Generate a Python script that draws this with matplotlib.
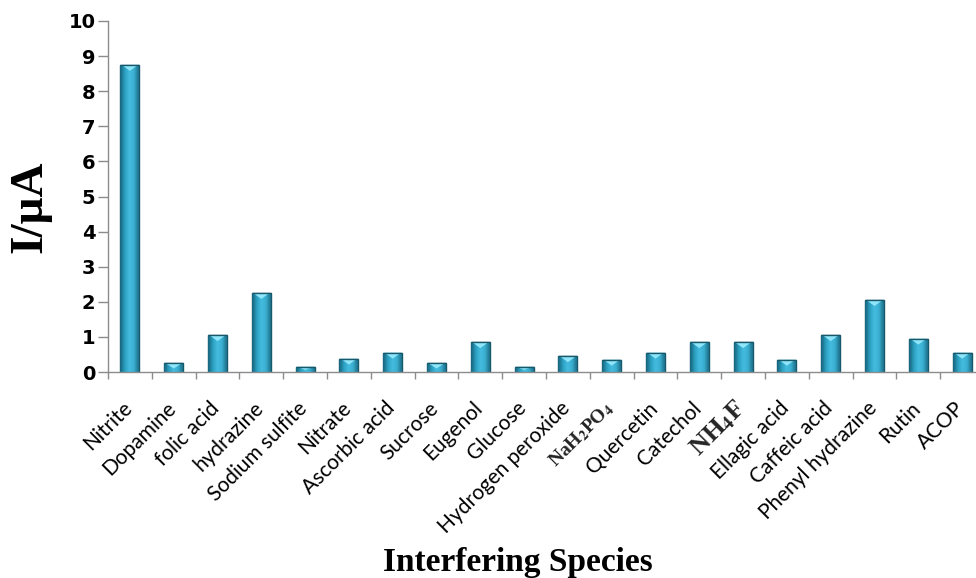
import numpy as np
import matplotlib
matplotlib.use("Agg")
import matplotlib.pyplot as plt
from matplotlib.patches import Polygon
from matplotlib.colors import LinearSegmentedColormap
import matplotlib.transforms as mtransforms

species = ["Nitrite", "Dopamine", "folic acid", "hydrazine", "Sodium sulfite",
           "Nitrate", "Ascorbic acid", "Sucrose", "Eugenol", "Glucose",
           "Hydrogen peroxide", "NaH$_\\mathbf{2}$PO$_\\mathbf{4}$", "Quercetin",
           "Catechol", "NH$_\\mathbf{4}$F", "Ellagic acid", "Caffeic acid",
           "Phenyl hydrazine", "Rutin", "ACOP"]
current_uA = [8.75, 0.25, 1.05, 2.25, 0.15, 0.38, 0.55, 0.25, 0.85, 0.15,
              0.45, 0.35, 0.55, 0.85, 0.85, 0.35, 1.05, 2.05, 0.95, 0.55]
y_ticks = [0, 1, 2, 3, 4, 5, 6, 7, 8, 9, 10]

plt.rcParams["mathtext.fontset"] = "stix"

fig = plt.figure(figsize=(9.76, 5.78), dpi=100)
ax = fig.add_axes([108 / 976, 206 / 578, 876 / 976, 351 / 578])

x = np.arange(len(species))
bar_w = 0.43
bars = ax.bar(x, current_uA, width=bar_w, color="#2a9dbd",
              edgecolor="#17586b", linewidth=1.0, zorder=2)

# horizontal shading inside each bar
shade = LinearSegmentedColormap.from_list(
    "shade", ["#17627a", "#2a9fc0", "#45bde0", "#3aaed0", "#1c6f88"])
grad = np.linspace(0, 1, 64).reshape(1, -1)
for rect, v in zip(bars, current_uA):
    x0 = rect.get_x()
    im = ax.imshow(grad, cmap=shade, aspect="auto",
                   extent=[x0, x0 + bar_w, 0, v], zorder=2.5,
                   interpolation="bicubic")
    im.set_clip_path(rect)
    # bevelled top
    tri_h = min(0.17, v * 0.6)
    tri = Polygon([[x0 + 0.03, v], [x0 + bar_w - 0.03, v],
                   [x0 + bar_w / 2, v - tri_h]], closed=True,
                  facecolor="#8fe6fa", edgecolor="none", zorder=3)
    ax.add_patch(tri)
    ax.plot([x0, x0 + bar_w], [v, v], color="#17586b", lw=1.0, zorder=3.2,
            solid_capstyle="butt")

ax.set_xlim(-0.5, len(species) - 0.5)
ax.set_ylim(0, 10)
ax.set_yticks(y_ticks)
ax.set_yticklabels([str(t) for t in y_ticks], fontsize=14, fontweight="bold",
                   family="DejaVu Sans")

ax.set_xticks(np.arange(len(species) + 1) - 0.5)
ax.set_xticklabels([])
ax.tick_params(axis="x", direction="out", length=5, width=1, color="#8c8c8c")
ax.tick_params(axis="y", direction="out", length=7, width=1, color="#8c8c8c",
               pad=2)

for s in ["top", "right"]:
    ax.spines[s].set_visible(False)
for s in ["left", "bottom"]:
    ax.spines[s].set_color("#8c8c8c")
    ax.spines[s].set_linewidth(1.0)

# rotated category labels
offset = mtransforms.ScaledTranslation(-1 / 100, -33 / 100, fig.dpi_scale_trans)
for i, name in enumerate(species):
    if "$" in name:
        big = name.startswith("NH")
        ax.text(i, 0, name, rotation=45, ha="right", va="center",
                rotation_mode="anchor", transform=ax.get_xaxis_transform() + offset,
                family="Liberation Serif", fontweight="bold",
                fontsize=19 if big else 14, color="#111111", alpha=0.92)
    else:
        ax.text(i, 0, name, rotation=45, ha="right", va="center",
                rotation_mode="anchor", transform=ax.get_xaxis_transform() + offset,
                family="Lato", fontsize=15, color="black")

fig.text(30 / 976, 1 - 207 / 578, "I/\u03bcA", rotation=90, ha="center",
         va="center", family="Liberation Serif", fontweight="bold", fontsize=34)
fig.text(518 / 976, 1 - 563 / 578, "Interfering Species", ha="center",
         va="center", family="Liberation Serif", fontweight="bold", fontsize=24)

fig.savefig("out.png", dpi=100)
